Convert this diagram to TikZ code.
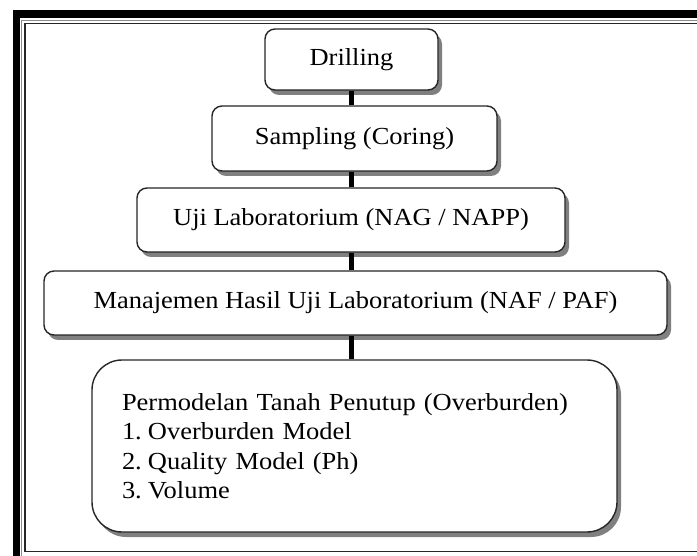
\documentclass[tikz,border=0pt]{standalone}
\usepackage{fontspec}
\setmainfont{Liberation Serif}[FakeStretch=1.08]
\usetikzlibrary{shadows,calc}
\begin{document}
\begin{tikzpicture}[x=1pt,y=-1pt,
  box/.style={draw=black!85,line width=1.4pt,fill=white,rounded corners=10pt,
    inner sep=0pt,align=center,font=\fontsize{24.5}{29}\selectfont,
    drop shadow={shadow xshift=4pt,shadow yshift=-5pt,fill=black!50,opacity=1}},
  conn/.style={line width=5pt,black}]
\useasboundingbox (0,0) rectangle (697,556);
% frame
\fill[black] (13,10) rectangle (697,18);
\fill[black] (13,10) rectangle (20,556);
\draw[black!45,line width=0.8pt] (21.5,20.5) -- (697,20.5);
\draw[black!45,line width=0.8pt] (21.5,20.5) -- (21.5,556);
\draw[black!85,line width=1.4pt] (697,23.5) -- (25,23.5) -- (25,551.5) -- (697,551.5);
% boxes
\node[box,minimum width=173pt,minimum height=61pt] (drill) at (351.5,59.5) {Drilling};
\node[box,minimum width=285pt,minimum height=65pt] (samp) at (354.5,138.5) {Sampling (Coring)};
\node[box,minimum width=428pt,minimum height=64pt] (uji) at (351,220) {Uji Laboratorium (NAG / NAPP)};
\node[box,minimum width=623pt,minimum height=64pt] (manj) at (355.5,303) {Manajemen Hasil Uji Laboratorium (NAF / PAF)};
\node[box,rounded corners=30pt,minimum width=525pt,minimum height=172pt,
  text width=465pt,align=left,font=\fontsize{24.5}{29.5}\selectfont] (perm) at (354.5,446)
  {Permodelan Tanah Penutup (Overburden)\\
   \makebox[26pt][l]{1.}Overburden Model\\
   \makebox[26pt][l]{2.}Quality Model (Ph)\\
   \makebox[26pt][l]{3.}Volume\\[2pt]};
% connectors
\coordinate (cx) at (351,0);
\draw[conn] (drill.south -| cx) -- (samp.north -| cx);
\draw[conn] (samp.south -| cx) -- (uji.north -| cx);
\draw[conn] (uji.south -| cx) -- (manj.north -| cx);
\draw[conn] (manj.south -| cx) -- (perm.north -| cx);
\end{tikzpicture}
\end{document}
